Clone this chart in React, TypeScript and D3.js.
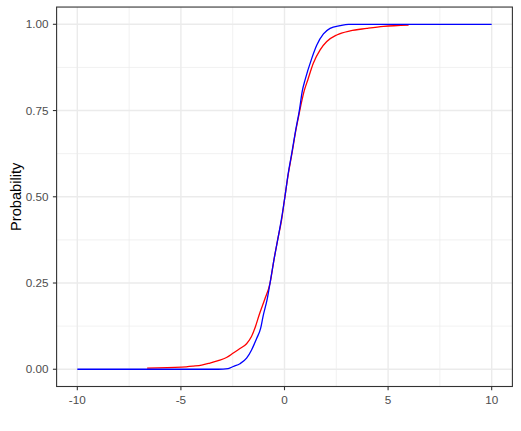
import React from "react";
import * as d3 from "d3";

const xTicks = [-10, -5, 0, 5, 10];
const xMinor = [-7.5, -2.5, 2.5, 7.5];
const yTicks = [0, 0.25, 0.5, 0.75, 1];
const yTickLabels = ["0.00", "0.25", "0.50", "0.75", "1.00"];
const yMinor = [0.125, 0.375, 0.625, 0.875];

const blueX = [-10, -3.2, -2.72, -2.47, -2.15, -1.83, -1.59, -1.34, -1.15, -1.03, -0.83, -0.7, -0.51, -0.33, -0.14, 0.02, 0.18, 0.35, 0.54, 0.72, 0.86, 0.99, 1.32, 1.56, 1.88, 2.2, 2.68, 3.09, 10];
const blueY = [0, 0, 0.002, 0.008, 0.016, 0.032, 0.056, 0.09, 0.119, 0.155, 0.205, 0.249, 0.317, 0.375, 0.438, 0.5, 0.568, 0.626, 0.693, 0.751, 0.807, 0.838, 0.902, 0.94, 0.972, 0.988, 0.996, 1, 1];

const redX = [-6.63, -4.97, -4.41, -4.0, -3.6, -3.2, -2.8, -2.47, -2.15, -1.83, -1.6, -1.4, -1.22, -0.94, -0.7, -0.51, -0.33, -0.14, 0.02, 0.18, 0.35, 0.54, 0.72, 0.96, 1.12, 1.39, 1.72, 2.04, 2.52, 3.17, 3.97, 4.78, 5.99];
const redY = [0.0035, 0.006, 0.009, 0.012, 0.018, 0.025, 0.034, 0.047, 0.06, 0.074, 0.094, 0.124, 0.158, 0.205, 0.249, 0.317, 0.375, 0.433, 0.5, 0.565, 0.622, 0.69, 0.745, 0.809, 0.838, 0.887, 0.926, 0.95, 0.969, 0.981, 0.988, 0.994, 0.998];

const W = 521;
const H = 431;
const left = 56.6;
const right = 512.4;
const top = 7.05;
const bottom = 386.5;

export default function App() {
  const x = d3.scaleLinear().domain([-11, 11]).range([left, right]);
  const y = d3.scaleLinear().domain([-0.05, 1.05]).range([bottom, top]);
  const line = d3
    .line<[number, number]>()
    .x((d) => x(d[0]))
    .y((d) => y(d[1]))
    .curve(d3.curveMonotoneX);
  const blue = blueX.map((v, i) => [v, blueY[i]] as [number, number]);
  const red = redX.map((v, i) => [v, redY[i]] as [number, number]);
  const font = "'Liberation Sans', Arial, sans-serif";

  return (
    <svg width={W} height={H} style={{ position: "absolute", left: 0, top: 0, background: "#fff" }} fontFamily={font}>
      <rect x={0} y={0} width={W} height={H} fill="#fff" />
      {xMinor.map((t) => (
        <line key={"xm" + t} x1={x(t)} x2={x(t)} y1={top} y2={bottom} stroke="#ebebeb" strokeWidth={0.7} />
      ))}
      {yMinor.map((t) => (
        <line key={"ym" + t} x1={left} x2={right} y1={y(t)} y2={y(t)} stroke="#ebebeb" strokeWidth={0.7} />
      ))}
      {xTicks.map((t) => (
        <line key={"xM" + t} x1={x(t)} x2={x(t)} y1={top} y2={bottom} stroke="#ebebeb" strokeWidth={1.4} />
      ))}
      {yTicks.map((t) => (
        <line key={"yM" + t} x1={left} x2={right} y1={y(t)} y2={y(t)} stroke="#ebebeb" strokeWidth={1.4} />
      ))}
      <path d={line(red) || ""} fill="none" stroke="#ff0000" strokeWidth={1.3} />
      <path d={line(blue) || ""} fill="none" stroke="#0000ff" strokeWidth={1.3} />
      <rect x={left} y={top} width={right - left} height={bottom - top} fill="none" stroke="#333333" strokeWidth={1.1} />
      {xTicks.map((t) => (
        <g key={"xt" + t}>
          <line x1={x(t)} x2={x(t)} y1={bottom} y2={bottom + 3.7} stroke="#333333" strokeWidth={1.1} />
          <text x={x(t)} y={404} textAnchor="middle" fontSize={11.7} fill="#4d4d4d">
            {t}
          </text>
        </g>
      ))}
      {yTicks.map((t, i) => (
        <g key={"yt" + t}>
          <line x1={left - 3.7} x2={left} y1={y(t)} y2={y(t)} stroke="#333333" strokeWidth={1.1} />
          <text x={48.5} y={y(t)} dy="0.35em" textAnchor="end" fontSize={11.7} fill="#4d4d4d">
            {yTickLabels[i]}
          </text>
        </g>
      ))}
      <text
        transform={`translate(20.5, ${(top + bottom) / 2}) rotate(-90)`}
        textAnchor="middle"
        fontSize={14.67}
        fill="#000"
      >
        Probability
      </text>
    </svg>
  );
}
